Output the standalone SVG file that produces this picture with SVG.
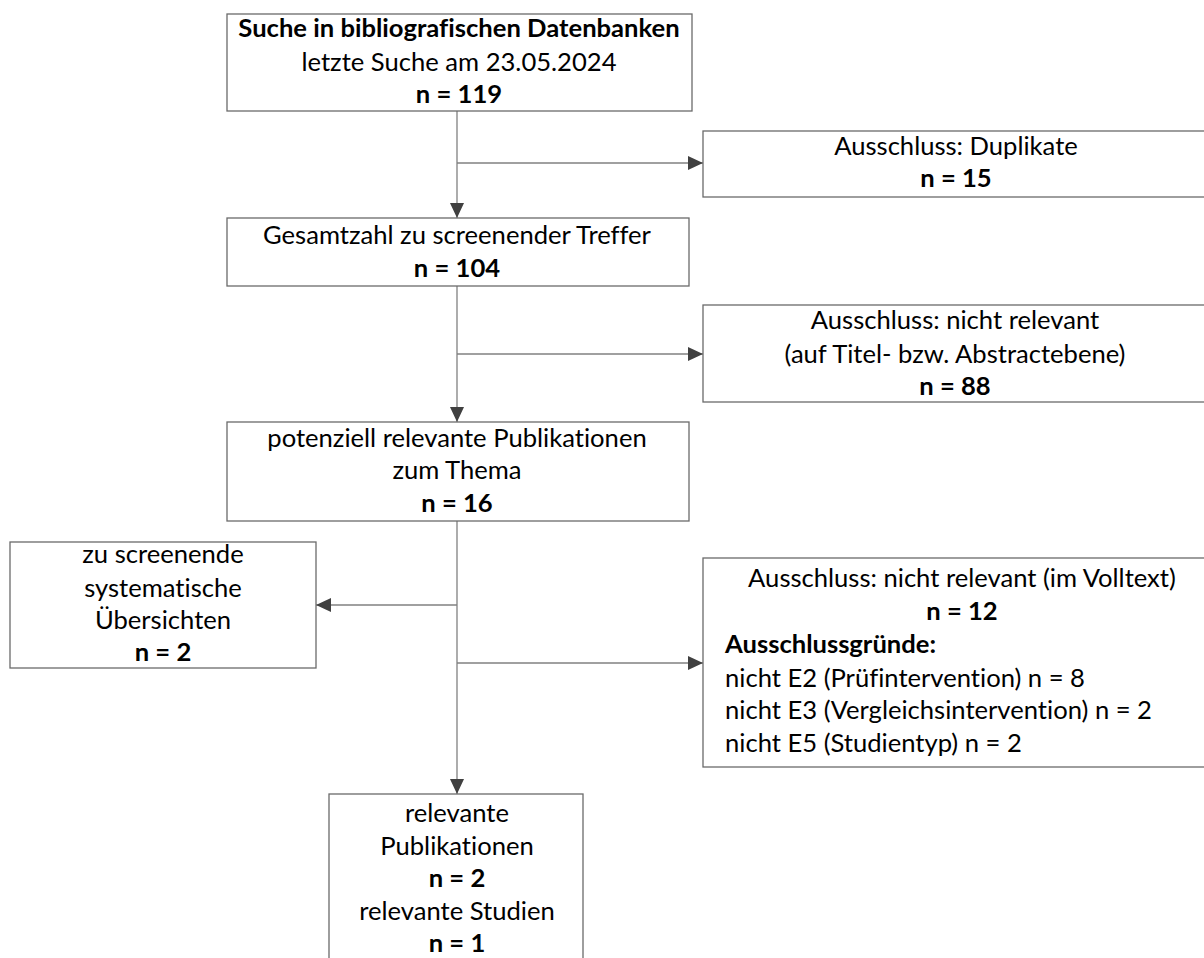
<svg xmlns="http://www.w3.org/2000/svg" width="1204" height="958" viewBox="0 0 1204 958">
<style>
text{font-family:Lato,"Noto Sans",sans-serif;font-size:25.6px;fill:#000;font-variant-ligatures:none}
.c{text-anchor:middle}
.b{font-weight:bold}
.box{fill:#fff;stroke:#6a6a6a;stroke-width:1.3}
.ln{fill:none;stroke:#808080;stroke-width:1.3}
</style>
<defs>
<marker id="ah" markerUnits="userSpaceOnUse" markerWidth="16" markerHeight="16" viewBox="0 0 16 16" refX="15" refY="8" orient="auto">
<path d="M0,1 L15,8 L0,15 Z" fill="#404040"/>
</marker>
</defs>
<rect width="1204" height="958" fill="#fff"/>
<g id="connectors">
<line class="ln" x1="457" y1="111" x2="457" y2="218" marker-end="url(#ah)"/>
<line class="ln" x1="457" y1="163" x2="703" y2="163" marker-end="url(#ah)"/>
<line class="ln" x1="457" y1="286" x2="457" y2="422" marker-end="url(#ah)"/>
<line class="ln" x1="457" y1="354" x2="703" y2="354" marker-end="url(#ah)"/>
<line class="ln" x1="457" y1="521" x2="457" y2="794" marker-end="url(#ah)"/>
<line class="ln" x1="457" y1="605" x2="316" y2="605" marker-end="url(#ah)"/>
<line class="ln" x1="457" y1="663" x2="703" y2="663" marker-end="url(#ah)"/>
</g>
<g id="n1">
<rect class="box" x="227" y="14" width="465" height="97"/>
<text class="c b" x="459" y="37">Suche in bibliografischen Datenbanken</text>
<text class="c" x="459" y="71">letzte Suche am 23.05.2024</text>
<text class="c b" x="459" y="103">n = 119</text>
</g>
<g id="n2">
<rect class="box" x="703" y="131" width="520" height="66"/>
<text class="c" x="956" y="155">Ausschluss: Duplikate</text>
<text class="c b" x="956" y="187">n = 15</text>
</g>
<g id="n3">
<rect class="box" x="227" y="218" width="462" height="68"/>
<text class="c" x="457" y="244">Gesamtzahl zu screenender Treffer</text>
<text class="c b" x="457" y="277">n = 104</text>
</g>
<g id="n4">
<rect class="box" x="703" y="305" width="520" height="97"/>
<text class="c" x="955" y="329">Ausschluss: nicht relevant</text>
<text class="c" x="955" y="363">(auf Titel- bzw. Abstractebene)</text>
<text class="c b" x="955" y="395">n = 88</text>
</g>
<g id="n5">
<rect class="box" x="227" y="422" width="462" height="99"/>
<text class="c" x="457" y="447">potenziell relevante Publikationen</text>
<text class="c" x="457" y="479">zum Thema</text>
<text class="c b" x="457" y="512">n = 16</text>
</g>
<g id="n6">
<rect class="box" x="10" y="542" width="306" height="126"/>
<text class="c" x="163" y="563">zu screenende</text>
<text class="c" x="163" y="597">systematische</text>
<text class="c" x="163" y="629">Übersichten</text>
<text class="c b" x="163" y="661">n = 2</text>
</g>
<g id="n7">
<rect class="box" x="703" y="558" width="520" height="209"/>
<text class="c" x="962" y="587">Ausschluss: nicht relevant (im Volltext)</text>
<text class="c b" x="962" y="620">n = 12</text>
<text class="b" x="725" y="653">Ausschlussgründe:</text>
<text x="725" y="687">nicht E2 (Prüfintervention) n = 8</text>
<text x="725" y="719">nicht E3 (Vergleichsintervention) n = 2</text>
<text x="725" y="752">nicht E5 (Studientyp) n = 2</text>
</g>
<g id="n8">
<rect class="box" x="329" y="794" width="254" height="180"/>
<text class="c" x="457" y="822">relevante</text>
<text class="c" x="457" y="855">Publikationen</text>
<text class="c b" x="457" y="887">n = 2</text>
<text class="c" x="457" y="920">relevante Studien</text>
<text class="c b" x="457" y="952">n = 1</text>
</g>
</svg>
